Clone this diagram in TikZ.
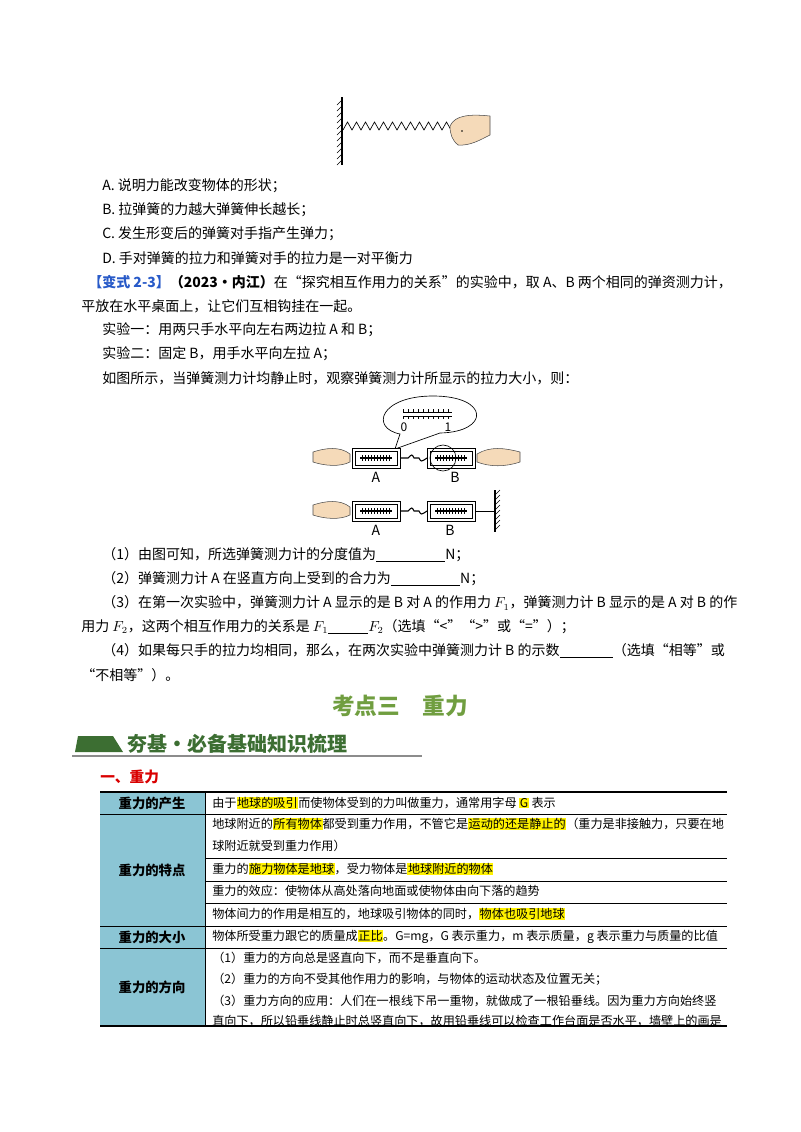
\documentclass[tikz,border=0pt]{standalone}
\usepackage{fontspec}
\setmainfont{Noto Sans CJK SC}
\usetikzlibrary{calc}
\definecolor{hd}{RGB}{112,158,64}
\definecolor{bn}{RGB}{60,110,50}
\definecolor{lb}{RGB}{139,197,212}
\definecolor{bl}{RGB}{40,90,200}
\definecolor{skin}{RGB}{245,218,185}
\newcommand{\hlt}[1]{{\setlength{\fboxsep}{0.4pt}\colorbox{yellow}{#1}}}
\newcommand{\blank}[1]{\underline{\hspace{#1}}}
\begin{document}
\begin{tikzpicture}[x=0.75pt,y=-0.75pt,
  t/.style={anchor=west,inner sep=0pt,font=\fontsize{10.5}{12}\selectfont},
  tt/.style={anchor=west,inner sep=0pt,font=\fontsize{9.1}{11}\selectfont},
  tc/.style={inner sep=0pt,font=\fontsize{10}{12}\selectfont\bfseries},
  hand/.style={fill=skin,draw=black!70,line width=0.4pt},
  scl/.style={draw=black,line width=0.6pt,fill=white},
  wall/.style={line width=0.5pt}]
\useasboundingbox (0,0) rectangle (800,1132);
% ---- top spring figure
\draw[line width=1pt] (342,97) -- (342,165);
\foreach \y in {100,106,...,164} \draw[wall] (342,\y) -- (337,\y+5);
\draw[line width=0.5pt] (343,130) \foreach \i in {0,...,11} { -- ++(4.5,-8) -- ++(4.5,8)} -- (452,130);
\draw[hand] (450,126) .. controls (455,115) and (470,114) .. (490,116) -- (490,135) .. controls (480,140) and (470,146) .. (458,145) .. controls (452,140) and (450,134) .. (450,126) -- cycle;
\fill (462,131) circle (0.8);
% ---- text block 1
\node[t] (a) at (102,186) {A.\ 说明力能改变物体的形状；};
\node[t] (b) at (102,210) {B.\ 拉弹簧的力越大弹簧伸长越长；};
\node[t] (c) at (102,234) {C.\ 发生形变后的弹簧对手指产生弹力；};
\node[t] (d) at (102,258) {D.\ 手对弹簧的拉力和弹簧对手的拉力是一对平衡力};
\node[t] (q1) at (88,282) {\textcolor{bl}{\bfseries 【变式 2-3】}{\bfseries（2023·内江）}在“探究相互作用力的关系”的实验中，取 A、B 两个相同的弹资测力计，};
\node[t] (q2) at (81,306) {平放在水平桌面上，让它们互相钩挂在一起。};
\node[t] (q3) at (102,330) {实验一：用两只手水平向左右两边拉 A 和 B；};
\node[t] (q4) at (102,354) {实验二：固定 B，用手水平向左拉 A；};
\node[t] (q5) at (102,378) {如图所示，当弹簧测力计均静止时，观察弹簧测力计所显示的拉力大小，则：};
% ---- spring scales figure
\draw[line width=0.5pt,fill=white] (395,449) -- (400,434) .. controls (370,428) and (380,396) .. (433,396) .. controls (490,396) and (490,432) .. (440,433) -- (395,449);
\draw[line width=0.5pt] (403,412) -- (452,412) (403,416) -- (452,416);
\foreach \x in {403,408,...,452} {\draw[line width=0.4pt] (\x,412) -- (\x,409); \draw[line width=0.4pt] (\x,416) -- (\x,419);}
\node[inner sep=0pt,font=\fontsize{9}{10}\selectfont] (z0) at (404,427) {0};
\node[inner sep=0pt,font=\fontsize{9}{10}\selectfont] (z1) at (448,427) {1};
\foreach \yy/\lab in {458/1,511/2} {
  \draw[hand] (350,\yy-4) .. controls (340,\yy-12) and (325,\yy-10) .. (313,\yy-6) -- (313,\yy+4) .. controls (325,\yy+8) and (340,\yy+9) .. (350,\yy+4) -- cycle;
  \draw[scl] (352,\yy-10) rectangle (400,\yy+10);
  \draw[line width=0.4pt] (355,\yy-7) rectangle (397,\yy+7);
  \draw[scl] (427,\yy-10) rectangle (475,\yy+10);
  \draw[line width=0.4pt] (430,\yy-7) rectangle (472,\yy+7);
  \draw[line width=1.2pt] (360,\yy) -- (392,\yy) (435,\yy) -- (467,\yy);
  \foreach \x in {362,365,...,390} \draw[line width=0.5pt] (\x,\yy-3) -- (\x,\yy+3);
  \foreach \x in {437,440,...,465} \draw[line width=0.5pt] (\x,\yy-3) -- (\x,\yy+3);
  \draw[line width=0.8pt] (400,\yy) -- (408,\yy) .. controls (412,\yy-4) .. (414,\yy) -- (419,\yy) .. controls (421,\yy+4) .. (427,\yy);
}
\draw[line width=0.5pt] (443,458) circle (13);
\draw[hand] (477,454) .. controls (490,446) and (505,448) .. (520,452) -- (520,462) .. controls (505,467) and (490,467) .. (477,462) -- cycle;
\draw[line width=0.6pt] (475,511) -- (495,511);
\draw[line width=1pt] (495,490) -- (495,532);
\foreach \y in {490,495,...,528} \draw[wall] (495,\y+5) -- (500,\y);
\node[t,anchor=center] (la1) at (376,477) {A};
\node[t,anchor=center] (lb1) at (455,477) {B};
\node[t,anchor=center] (la2) at (376,530) {A};
\node[t,anchor=center] (lb2) at (450,530) {B};
% ---- questions
\node[t] (p1) at (102,555) {（1）由图可知，所选弹簧测力计的分度值为\blank{52pt}N；};
\node[t] (p2) at (102,579) {（2）弹簧测力计 A 在竖直方向上受到的合力为\blank{52pt}N；};
\node[t] (p3) at (102,603) {（3）在第一次实验中，弹簧测力计 A 显示的是 B 对 A 的作用力 $F_1$，弹簧测力计 B 显示的是 A 对 B 的作};
\node[t] (p3b) at (81,627) {用力 $F_2$，这两个相互作用力的关系是 $F_1$\blank{30pt}$F_2$（选填“<”“>”或“=”）；};
\node[t] (p4) at (102,651) {（4）如果每只手的拉力均相同，那么，在两次实验中弹簧测力计 B 的示数\blank{40pt}（选填“相等”或};
\node[t] (p4b) at (81,675) {“不相等”）。};
% ---- heading
\node[inner sep=0pt,font=\fontsize{17}{20}\selectfont\bfseries,text=hd] (h) at (400,706) {考点三\quad 重力};
\fill[bn] (75,752) -- (78,736) -- (113,736) -- (123,752) -- cycle;
\node[anchor=west,inner sep=0pt,font=\fontsize{15}{17}\selectfont\bfseries,text=bn] (bnr) at (127,744) {夯基·必备基础知识梳理};
\draw[line width=0.8pt,black!45] (72,756) -- (422,756);
\node[anchor=west,inner sep=0pt,font=\fontsize{11}{13}\selectfont\bfseries,text=red!85!black] (s1) at (100,777) {一、重力};
% ---- table
\fill[lb] (100,792) rectangle (205,1026);
\draw[line width=1.2pt] (100,792) -- (727,792);
\draw[line width=0.6pt] (100,814) -- (727,814) (100,926) -- (727,926) (100,948) -- (727,948);
\draw[line width=0.5pt] (205,858) -- (727,858) (205,881) -- (727,881) (205,903) -- (727,903);
\draw[line width=1.5pt] (100,1026) -- (727,1026);
\draw[line width=0.5pt] (205,792) -- (205,1026);
\node[tc] (l1) at (152,803) {重力的产生};
\node[tc] (l2) at (152,870) {重力的特点};
\node[tc] (l3) at (152,937) {重力的大小};
\node[tc] (l4) at (152,987) {重力的方向};
\node[tt] (r1) at (212,803) {由于\hlt{地球的吸引}而使物体受到的力叫做重力，通常用字母 \hlt{G} 表示};
\node[tt] (r2) at (212,824) {地球附近的\hlt{所有物体}都受到重力作用，不管它是\hlt{运动的还是静止的}（重力是非接触力，只要在地};
\node[tt] (r2b) at (212,846) {球附近就受到重力作用）};
\node[tt] (r3) at (212,869) {重力的\hlt{施力物体是地球}，受力物体是\hlt{地球附近的物体}};
\node[tt] (r4) at (212,891) {重力的效应：使物体从高处落向地面或使物体由向下落的趋势};
\node[tt] (r5) at (212,914) {物体间力的作用是相互的，地球吸引物体的同时，\hlt{物体也吸引地球}};
\node[tt] (r6) at (212,937) {物体所受重力跟它的质量成\hlt{正比}。G=mg，G 表示重力，m 表示质量，g 表示重力与质量的比值};
\node[tt] (r7) at (212,958) {（1）重力的方向总是竖直向下，而不是垂直向下。};
\node[tt] (r8) at (212,979) {（2）重力的方向不受其他作用力的影响，与物体的运动状态及位置无关；};
\node[tt] (r9) at (212,1001) {（3）重力方向的应用：人们在一根线下吊一重物，就做成了一根铅垂线。因为重力方向始终竖};
\node[tt] (r10) at (212,1021) {直向下，所以铅垂线静止时总竖直向下，故用铅垂线可以检查工作台面是否水平，墙壁上的画是};
\end{tikzpicture}
\end{document}
